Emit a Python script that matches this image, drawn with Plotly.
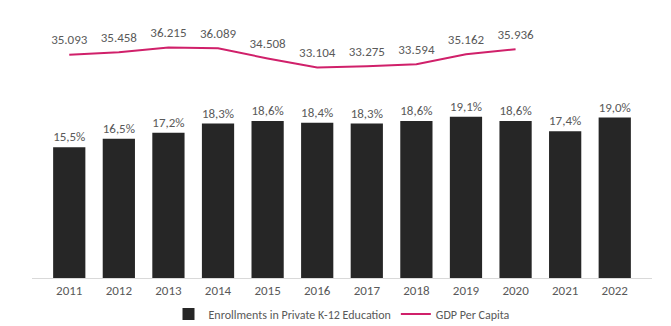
import plotly.graph_objects as go

years = ["2011", "2012", "2013", "2014", "2015", "2016", "2017", "2018", "2019", "2020", "2021", "2022"]
enrollment_pct = [15.5, 16.5, 17.2, 18.3, 18.6, 18.4, 18.3, 18.6, 19.1, 18.6, 17.4, 19.0]
gdp_per_capita = [35093, 35458, 36215, 36089, 34508, 33104, 33275, 33594, 35162, 35936, None, None]

FONT = "Carlito, Calibri, Lato, sans-serif"
TEXT = "#595959"

fig = go.Figure()
fig.add_trace(go.Bar(
    x=years, y=enrollment_pct,
    name="Enrollments in Private K-12 Education",
    marker=dict(color="#262626", line=dict(width=0)),
    texttemplate="%{y:.1f}%", textposition="outside",
    textfont=dict(family=FONT, size=13, color=TEXT),
    cliponaxis=False,
))
fig.add_trace(go.Scatter(
    x=years, y=gdp_per_capita, yaxis="y2",
    name="GDP Per Capita",
    mode="lines+markers+text",
    line=dict(color="#D0206A", width=2),
    marker=dict(size=10, color="rgba(0,0,0,0)"),
    texttemplate="%{y:,.0f}", textposition="top center",
    textfont=dict(family=FONT, size=13, color=TEXT),
    cliponaxis=False,
))

fig.update_layout(
    width=671, height=326,
    margin=dict(l=32, r=19, t=10, b=48, autoexpand=False),
    paper_bgcolor="white", plot_bgcolor="white",
    separators=",.",
    bargap=0.35,
    font=dict(family=FONT, color=TEXT),
    showlegend=True,
    legend=dict(orientation="h", x=0.5, xanchor="center", y=-0.08, yanchor="top",
                font=dict(family=FONT, size=12, color=TEXT), itemwidth=30,
                traceorder="normal"),
    xaxis=dict(type="category", showgrid=False, showline=True, linecolor="#D9D9D9",
               linewidth=1, ticks="", automargin=False,
               tickfont=dict(family=FONT, size=13, color=TEXT)),
    yaxis=dict(range=[0, 31.75], visible=False, showgrid=False, automargin=False),
    yaxis2=dict(range=[200, 42076], overlaying="y", visible=False, showgrid=False,
                automargin=False),
)

fig.write_html("out.html")
